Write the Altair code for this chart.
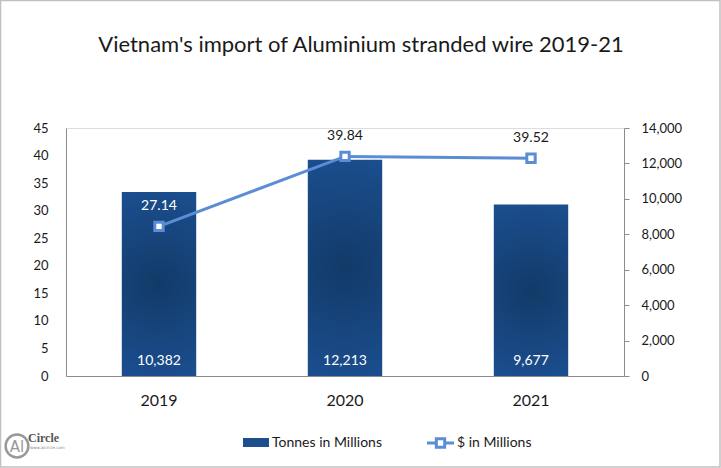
import altair as alt
import pandas as pd

years = ["2019", "2020", "2021"]
tonnes = [10382, 12213, 9677]
usd = [27.14, 39.84, 39.52]

df = pd.DataFrame({"year": years, "tonnes": tonnes, "usd": usd})
one = pd.DataFrame({"k": [0]})

FONT = "Lato"
LINE_C = "#5b8dd4"
GREY = "#8c8c8c"
TXT = "#1a1a1a"

grad = alt.Gradient(
    gradient="radial",
    stops=[alt.GradientStop(offset=0, color="#123a68"),
           alt.GradientStop(offset=1, color="#1f57a0")],
    x1=0.5, y1=0.5, x2=0.5, y2=0.5, r1=0, r2=0.75,
)

xenc = alt.X("year:N", title=None,
             scale=alt.Scale(paddingInner=0.6, paddingOuter=0.3),
             axis=alt.Axis(labelAngle=0, labelFontSize=16, labelPadding=16,
                           ticks=False, tickSize=0, domainColor=GREY,
                           labelColor=TXT, labelFont=FONT))

rscale = alt.Scale(domain=[0, 14000], nice=False, zero=True)
lscale = alt.Scale(domain=[0, 45], nice=False, zero=True)

yright = alt.Y("tonnes:Q", title=None, scale=rscale,
               axis=alt.Axis(orient="right", values=[0, 2000, 4000, 6000, 8000, 10000, 12000, 14000],
                             format=",d", grid=False, tickSize=5, tickColor=GREY,
                             domainColor=GREY, labelPadding=12, labelFontSize=13,
                             labelColor=TXT, labelFont=FONT))

yleft = alt.Y("usd:Q", title=None, scale=lscale,
              axis=alt.Axis(orient="left", values=[0, 5, 10, 15, 20, 25, 30, 35, 40, 45],
                            format="d", grid=False, ticks=False, tickSize=0,
                            domainColor=GREY, labelPadding=18, labelFontSize=13,
                            labelColor=TXT, labelFont=FONT))

bars = alt.Chart(df).mark_bar(color=grad).encode(x=xenc, y=yright)
bar_text = alt.Chart(df).mark_text(color="white", fontSize=14, font=FONT, dy=-15).encode(
    x=alt.X("year:N"), y=alt.YDatum(0, type="quantitative", scale=rscale, axis=None),
    text=alt.Text("tonnes:Q", format=","))

line = alt.Chart(df).mark_line(color=LINE_C, strokeWidth=3).encode(x=alt.X("year:N"), y=yleft)
pts = alt.Chart(df).mark_point(shape="square", filled=True, fill="white", stroke=LINE_C,
                               strokeWidth=3, size=70, opacity=1).encode(
    x=alt.X("year:N"), y=alt.Y("usd:Q", scale=lscale, axis=None))
line_text = alt.Chart(df).mark_text(fontSize=14, font=FONT, dy=-20).encode(
    x=alt.X("year:N"), y=alt.Y("usd:Q", scale=lscale, axis=None),
    text=alt.Text("usd:Q", format=".2f"),
    color=alt.condition(alt.datum.year == "2019", alt.value("white"), alt.value(TXT)))

title = alt.Chart(one).mark_text(fontSize=22, font=FONT, color=TXT, baseline="middle").encode(
    x=alt.value(295), y=alt.value(-83),
    text=alt.value("Vietnam's import of Aluminium stranded wire 2019-21"))

# manual legend
leg_bar = alt.Chart(one).mark_rect(color="#1d4f8f").encode(
    x=alt.value(177), x2=alt.value(203), y=alt.value(310), y2=alt.value(319))
leg_bar_t = alt.Chart(one).mark_text(align="left", baseline="middle", fontSize=14, font=FONT,
                                     color=TXT).encode(
    x=alt.value(206), y=alt.value(315), text=alt.value("Tonnes in Millions"))
leg_line = alt.Chart(one).mark_rule(color=LINE_C, strokeWidth=3).encode(
    x=alt.value(361), x2=alt.value(388), y=alt.value(315))
leg_pt = alt.Chart(one).mark_point(shape="square", filled=True, fill="white", stroke=LINE_C,
                                   strokeWidth=3, size=70, opacity=1).encode(
    x=alt.value(374.5), y=alt.value(315))
leg_line_t = alt.Chart(one).mark_text(align="left", baseline="middle", fontSize=14, font=FONT,
                                      color=TXT).encode(
    x=alt.value(391), y=alt.value(315), text=alt.value("$ in Millions"))

# logo
logo_c = alt.Chart(one).mark_point(shape="circle", filled=False, stroke="#999999",
                                   strokeWidth=2.5, size=520, opacity=1).encode(
    x=alt.value(-49), y=alt.value(318))
logo_al = alt.Chart(one).mark_text(fontSize=15, font="DejaVu Sans", color="#999999",
                                   baseline="middle").encode(
    x=alt.value(-49), y=alt.value(319), text=alt.value("Al"))
logo_t = alt.Chart(one).mark_text(fontSize=12, font="Liberation Sans Narrow", fontWeight="bold",
                                  color="#555555", align="left", baseline="middle").encode(
    x=alt.value(-38), y=alt.value(310), text=alt.value("Circle"))
logo_s = alt.Chart(one).mark_text(fontSize=4, font="DejaVu Sans", color="#888888",
                                  align="left", baseline="middle").encode(
    x=alt.value(-36), y=alt.value(320), text=alt.value("www.alcircle.com"))

frame = alt.Chart(one).mark_rect(fill=None, stroke="#c0c0c0", strokeWidth=1.5).encode(
    x=alt.value(-65.5), x2=alt.value(654), y=alt.value(-127.5), y2=alt.value(339))

chart = alt.layer(
    bars, bar_text, line, pts, line_text, title,
    leg_bar, leg_bar_t, leg_line, leg_pt, leg_line_t, logo_c, logo_al, logo_t, logo_s, frame,
).resolve_scale(y="independent").properties(
    width=558, height=248,
    autosize=alt.AutoSizeParams(type="none"),
    padding={"left": 66, "top": 128, "right": 97, "bottom": 92},
).configure_view(stroke=None).configure(background="white")

chart.save("out.html", embed_options={"renderer": "svg", "actions": False})
